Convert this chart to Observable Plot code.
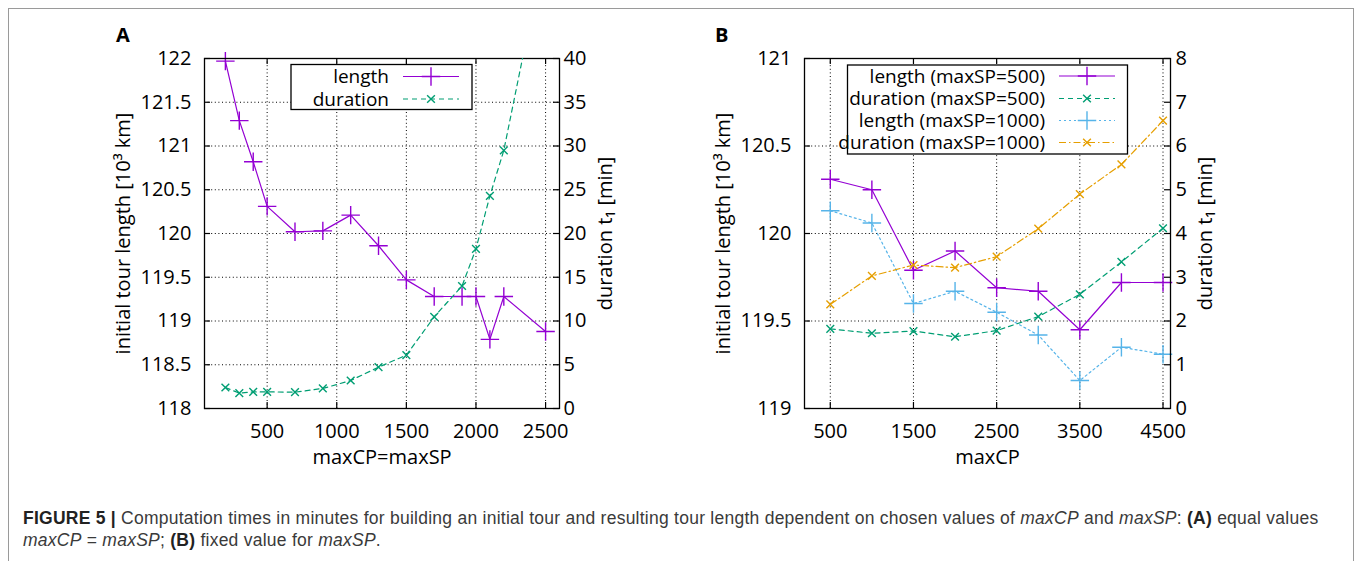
<!DOCTYPE html>
<html>
<head>
<meta charset="utf-8">
<script src="https://cdn.jsdelivr.net/npm/d3@7"></script>
<script src="https://cdn.jsdelivr.net/npm/@observablehq/plot@0.6"></script>
<style>
  html, body { margin: 0; padding: 0; background: #fff; }
  body { width: 1358px; height: 561px; overflow: hidden; position: relative; }
  #border { position: absolute; left: 8px; top: 8px; width: 1346px; height: 600px; border: 1px solid #9a9a9a; box-sizing: border-box; }
  .panel { position: absolute; }
  .panel svg { position: absolute; left: 0; top: 0; }
  #caption { position: absolute; left: 23px; top: 507px; font-family: "Liberation Sans", Arial, sans-serif; font-size: 17.5px; letter-spacing: 0.25px; line-height: 22px; color: #3a3a3a; white-space: nowrap; }
  #caption b { color: #222; }
  #overlay { position: absolute; left: 0; top: 0; }
</style>
</head>
<body>
<div id="border"></div>
<div id="panelA" class="panel" style="left:100px;top:20px;width:560px;height:470px"></div>
<div id="panelB" class="panel" style="left:700px;top:20px;width:560px;height:470px"></div>
<div id="caption"><b>FIGURE 5 |</b> Computation times in minutes for building an initial tour and resulting tour length dependent on chosen values of <i>maxCP</i> and <i>maxSP</i>: <b>(A)</b> equal values<br><i>maxCP</i> = <i>maxSP</i>; <b>(B)</b> fixed value for <i>maxSP</i>.</div>
<script>
// ---------------- data ----------------
const xA = [200, 300, 400, 500, 700, 900, 1100, 1300, 1500, 1700, 1900, 2000, 2100, 2200, 2500];
const lengthA = [121.97, 121.29, 120.82, 120.31, 120.02, 120.03, 120.21, 119.86, 119.47, 119.28, 119.28, 119.28, 118.79, 119.28, 118.88];
const durationA = [2.4, 1.75, 1.9, 1.9, 1.87, 2.29, 3.2, 4.72, 6.1, 10.48, 14.0, 18.25, 24.3, 29.5, 53];

const xB = [500, 1000, 1500, 2000, 2500, 3000, 3500, 4000, 4500];
const lengthB500 = [120.31, 120.25, 119.79, 119.90, 119.69, 119.67, 119.45, 119.72, 119.72];
const durationB500 = [1.82, 1.72, 1.77, 1.64, 1.78, 2.10, 2.61, 3.35, 4.12];
const lengthB1000 = [120.13, 120.06, 119.60, 119.67, 119.55, 119.42, 119.16, 119.35, 119.31];
const durationB1000 = [2.38, 3.03, 3.28, 3.22, 3.47, 4.11, 4.90, 5.58, 6.58];

const xTicksA = [500, 1000, 1500, 2000, 2500];
const yTicksA = [118, 118.5, 119, 119.5, 120, 120.5, 121, 121.5, 122];
const y2TicksA = [0, 5, 10, 15, 20, 25, 30, 35, 40];
const xTicksB = [500, 1500, 2500, 3500, 4500];
const yTicksB = [119, 119.5, 120, 120.5, 121];
const y2TicksB = [0, 1, 2, 3, 4, 5, 6, 7, 8];

const legendA = ["length", "duration"];
const legendB = ["length (maxSP=500)", "duration (maxSP=500)", "length (maxSP=1000)", "duration (maxSP=1000)"];

// ---------------- styles ----------------
const FONT = '"Open Sans", "DejaVu Sans", sans-serif';
const PURPLE = "#9400d3", GREEN = "#009e73", BLUE = "#56b4e9", ORANGE = "#e69f00";
const styles = {
  lenMain: {color: PURPLE, symbol: "plus", r: 6, dash: null},
  durMain: {color: GREEN, symbol: "times", r: 3.6, dash: "5,4"},
  len2: {color: BLUE, symbol: "plus", r: 6, dash: "2,3"},
  dur2: {color: ORANGE, symbol: "times", r: 3.6, dash: "7,3,1.5,3"}
};

function seriesMarks(s, yMax) {
  const data = s.x.map((x, i) => ({x, y: s.y[i]}));
  return [
    Plot.line(data, {x: "x", y: "y", stroke: s.color, strokeWidth: 1.2, strokeDasharray: s.dash, clip: true}),
    Plot.dot(data.filter(d => d.y <= yMax), {x: "x", y: "y", symbol: s.symbol, r: s.r, stroke: s.color, strokeWidth: 1.4})
  ];
}

function panel(el, cfg) {
  const {W, H, ml, mr, mt, mb} = cfg;
  const fw = W - ml - mr, fh = H - mt - mb;
  const common = {
    width: W, height: H, marginLeft: ml, marginRight: mr, marginTop: mt, marginBottom: mb,
    style: {fontFamily: FONT, fontSize: "20px", background: "transparent", color: "#000", overflow: "visible"}
  };
  const dotted = {stroke: "#000", strokeOpacity: 1, strokeWidth: 1, strokeDasharray: "1,2.6"};
  const tick = {stroke: "#000", strokeWidth: 1.2};
  const inner = cfg.yTicks.slice(1, -1);
  const base = Plot.plot({
    ...common,
    x: {domain: cfg.xDomain},
    y: {domain: cfg.yDomain},
    marks: [
      Plot.gridX(cfg.xTicks, dotted),
      Plot.gridY(inner, dotted),
      ...cfg.left.flatMap(s => seriesMarks(s, cfg.yDomain[1])),
      Plot.tickX(cfg.xTicks, {x: d => d, insetTop: fh - 6, ...tick}),
      Plot.tickX(cfg.xTicks, {x: d => d, insetBottom: fh - 6, ...tick}),
      Plot.tickY(cfg.yTicks, {y: d => d, insetRight: fw - 6, ...tick}),
      Plot.frame({stroke: "#000", strokeWidth: 1.3}),
      Plot.axisX(cfg.xTicks, {tickSize: 0, tickPadding: 15, tickFormat: d => String(d), label: null, fontSize: 20}),
      Plot.axisY(cfg.yTicks, {anchor: "left", tickSize: 0, tickPadding: 13, tickFormat: d => String(d), label: null, fontSize: 20}),
      Plot.text([cfg.xLabel], {frameAnchor: "bottom", dy: 55, text: d => d, fontSize: 20, fill: "#000", textAnchor: "middle"}),
      Plot.text([cfg.yLabel], {frameAnchor: "left", dx: cfg.yLabelDx, rotate: -90, text: d => d, fontSize: 20, fill: "#000", textAnchor: "middle", lineAnchor: "middle"})
    ]
  });
  const over = Plot.plot({
    ...common,
    x: {domain: cfg.xDomain, axis: null},
    y: {domain: cfg.y2Domain, axis: null},
    marks: [
      ...cfg.right.flatMap(s => seriesMarks(s, cfg.y2Domain[1])),
      Plot.tickY(cfg.y2Ticks, {y: d => d, insetLeft: fw - 6, ...tick}),
      Plot.axisY(cfg.y2Ticks, {anchor: "right", tickSize: 0, tickPadding: cfg.y2Pad, tickFormat: d => String(d), label: null, fontSize: 20}),
      Plot.text([cfg.y2Label], {frameAnchor: "right", dx: cfg.y2LabelDx, rotate: -90, text: d => d, fontSize: 20, fill: "#000", textAnchor: "middle", lineAnchor: "middle"})
    ]
  });
  el.append(base);
  el.append(over);
}

panel(document.getElementById("panelA"), {
  W: 560, H: 470, ml: 104, mr: 101, mt: 38, mb: 82,
  xDomain: [50, 2600], yDomain: [118, 122], y2Domain: [0, 40],
  xTicks: xTicksA, yTicks: yTicksA, y2Ticks: y2TicksA, y2Pad: 4,
  xLabel: "maxCP=maxSP", yLabel: "initial tour length [10³ km]", y2Label: "duration t₁ [min]",
  yLabelDx: -81, y2LabelDx: 46,
  left: [{x: xA, y: lengthA, ...styles.lenMain}],
  right: [{x: xA, y: durationA, ...styles.durMain}]
});

panel(document.getElementById("panelB"), {
  W: 560, H: 470, ml: 104, mr: 90, mt: 38, mb: 82,
  xDomain: [190, 4590], yDomain: [119, 121], y2Domain: [0, 8],
  xTicks: xTicksB, yTicks: yTicksB, y2Ticks: y2TicksB, y2Pad: 5,
  xLabel: "maxCP", yLabel: "initial tour length [10³ km]", y2Label: "duration t₁ [min]",
  yLabelDx: -81, y2LabelDx: 35,
  left: [{x: xB, y: lengthB500, ...styles.lenMain}, {x: xB, y: lengthB1000, ...styles.len2}],
  right: [{x: xB, y: durationB500, ...styles.durMain}, {x: xB, y: durationB1000, ...styles.dur2}]
});

// ---------------- legends & panel labels ----------------
const svg = d3.select("body").append("svg").attr("id", "overlay")
  .attr("width", 1358).attr("height", 561).style("pointer-events", "none");

svg.append("text").attr("x", 116).attr("y", 42).text("A")
  .attr("font-family", FONT).attr("font-size", 20).attr("font-weight", "bold");
svg.append("text").attr("x", 715).attr("y", 42).text("B")
  .attr("font-family", FONT).attr("font-size", 20).attr("font-weight", "bold");

function legend(box, textRight, lineX1, lineX2, rows, labels, entries) {
  svg.append("rect").attr("x", box[0]).attr("y", box[1]).attr("width", box[2]).attr("height", box[3])
    .attr("fill", "#fff").attr("stroke", "#000").attr("stroke-width", 1.3);
  labels.forEach((lab, i) => {
    const y = rows[i], s = entries[i];
    svg.append("text").attr("x", textRight).attr("y", y).attr("dy", "0.35em")
      .attr("text-anchor", "end").attr("font-family", FONT).attr("font-size", 19).text(lab);
    svg.append("line").attr("x1", lineX1).attr("x2", lineX2).attr("y1", y).attr("y2", y)
      .attr("stroke", s.color).attr("stroke-width", 1.2).attr("stroke-dasharray", s.dash);
    const sym = s.symbol === "plus" ? d3.symbolPlus : d3.symbolTimes;
    svg.append("path").attr("d", d3.symbol(sym, Math.PI * s.r * s.r)())
      .attr("transform", `translate(${(lineX1 + lineX2) / 2},${y})`)
      .attr("fill", "none").attr("stroke", s.color).attr("stroke-width", 1.4);
  });
}
legend([291, 64.5, 181, 45], 389, 403, 459, [76.5, 99], legendA, [styles.lenMain, styles.durMain]);
legend([847.5, 65, 280, 89], 1045, 1059, 1115, [76, 98.5, 120.5, 142.5], legendB,
  [styles.lenMain, styles.durMain, styles.len2, styles.dur2]);
</script>
</body>
</html>
